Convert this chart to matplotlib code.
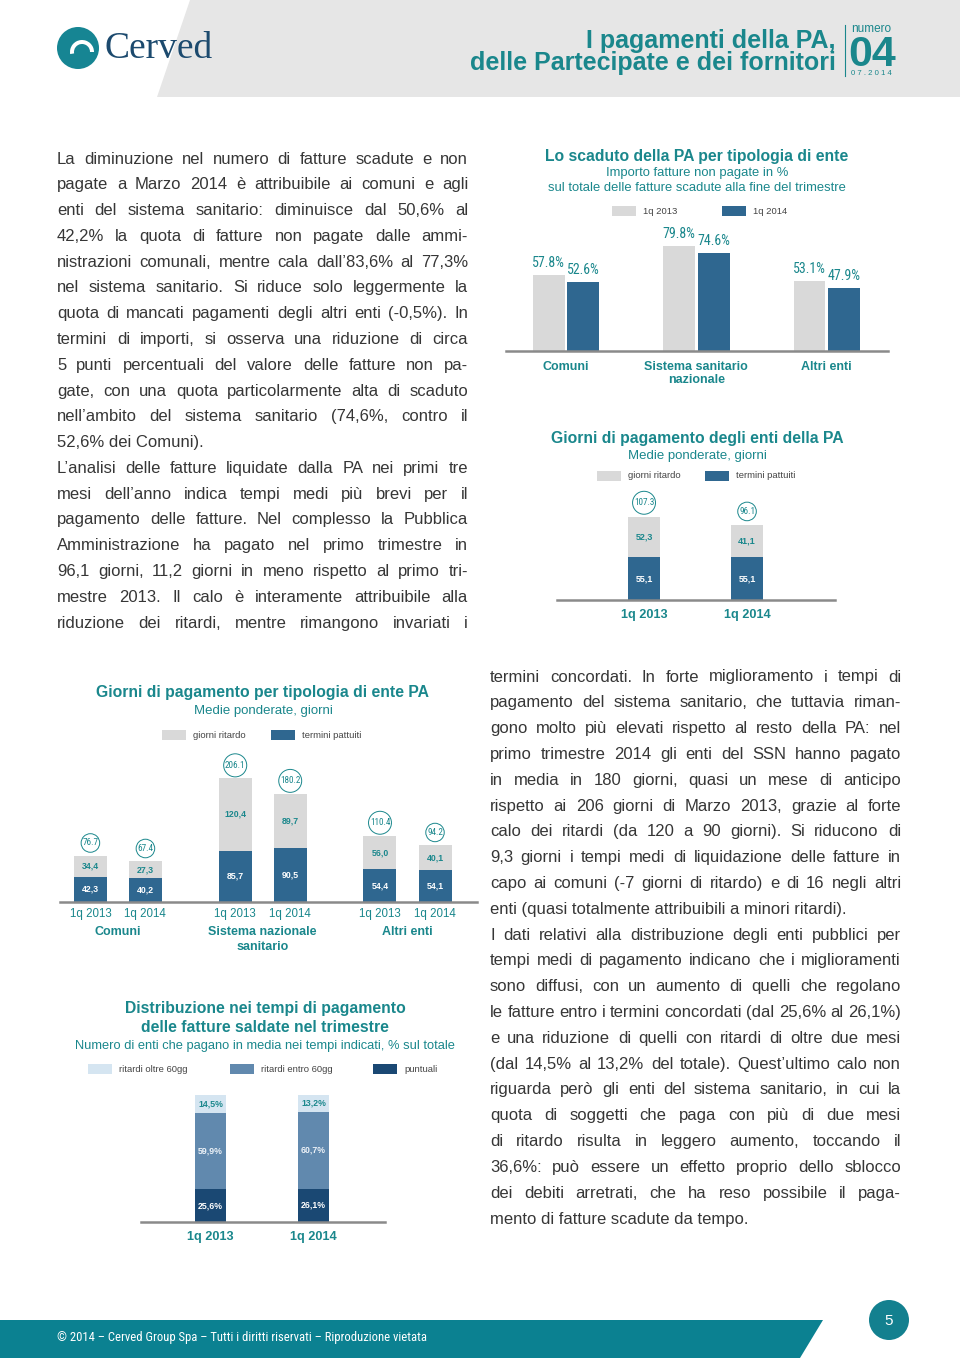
"""Cerved -- 'I pagamenti della PA' page 5: two text columns and four bar charts."""

import matplotlib
matplotlib.use("Agg")
import matplotlib.pyplot as plt
import numpy as np
from matplotlib import font_manager
from matplotlib.patches import Polygon, Circle, Rectangle, Wedge

W, H = 960, 1358
TEAL = "#1a878c"
GREY = "#d9d9d9"
BLUE = "#2f6790"
LIGHT = "#d5e5f1"
MID = "#6189ae"
NAVY = "#1a4873"
BODY_COL = "#363636"
SANS = ["Liberation Sans", "DejaVu Sans"]

_installed = {f.name for f in font_manager.fontManager.ttflist}
_narrow = [n for n in ("Liberation Sans Narrow", "DejaVu Sans Condensed", "Roboto Condensed",
                       "Open Sans Condensed") if n in _installed]
HAS_NARROW = bool(_narrow)
NARROW = (_narrow[:1] or []) + SANS

# ---- data -------------------------------------------------------------
scad_series = ["1q 2013", "1q 2014"]
scad_cats = ["Comuni", "Sistema sanitario\nnazionale", "Altri enti"]
scad_2013 = [57.8, 79.8, 53.1]
scad_2014 = [52.6, 74.6, 47.9]

giorni_series = ["giorni ritardo", "termini pattuiti"]
pa_periods = ["1q 2013", "1q 2014"]
pa_ritardo = [52.3, 41.1]
pa_termini = [55.1, 55.1]
pa_totale = [107.3, 96.1]

enti_cats = ["Comuni", "Sistema nazionale\nsanitario", "Altri enti"]
rit_2013 = [34.4, 120.4, 56.0]
rit_2014 = [27.3, 89.7, 40.1]
ter_2013 = [42.3, 85.7, 54.4]
ter_2014 = [40.2, 90.5, 54.1]
tot_2013 = [76.7, 206.1, 110.4]
tot_2014 = [67.4, 180.2, 94.2]

dist_series = ["ritardi oltre 60gg", "ritardi entro 60gg", "puntuali"]
dist_periods = ["1q 2013", "1q 2014"]
oltre60 = [14.5, 13.2]
entro60 = [59.9, 60.7]
puntuali = [25.6, 26.1]

left_lines = [
    "La diminuzione nel numero di fatture scadute e non",
    "pagate a Marzo 2014 è attribuibile ai comuni e agli",
    "enti del sistema sanitario: diminuisce dal 50,6% al",
    "42,2% la quota di fatture non pagate dalle ammi-",
    "nistrazioni comunali, mentre cala dall’83,6% al 77,3%",
    "nel sistema sanitario. Si riduce solo leggermente la",
    "quota di mancati pagamenti degli altri enti (-0,5%). In",
    "termini di importi, si osserva una riduzione di circa",
    "5 punti percentuali del valore delle fatture non pa-",
    "gate, con una quota particolarmente alta di scaduto",
    "nell’ambito del sistema sanitario (74,6%, contro il",
    "52,6% dei Comuni).",
    "L’analisi delle fatture liquidate dalla PA nei primi tre",
    "mesi dell’anno indica tempi medi più brevi per il",
    "pagamento delle fatture. Nel complesso la Pubblica",
    "Amministrazione ha pagato nel primo trimestre in",
    "96,1 giorni, 11,2 giorni in meno rispetto al primo tri-",
    "mestre 2013. Il calo è interamente attribuibile alla",
    "riduzione dei ritardi, mentre rimangono invariati i",
]
left_last = {11}

right_lines = [
    "termini concordati. In forte miglioramento i tempi di",
    "pagamento del sistema sanitario, che tuttavia riman-",
    "gono molto più elevati rispetto al resto della PA: nel",
    "primo trimestre 2014 gli enti del SSN hanno pagato",
    "in media in 180 giorni, quasi un mese di anticipo",
    "rispetto ai 206 giorni di Marzo 2013, grazie al forte",
    "calo dei ritardi (da 120 a 90 giorni). Si riducono di",
    "9,3 giorni i tempi medi di liquidazione delle fatture in",
    "capo ai comuni (-7 giorni di ritardo) e di 16 negli altri",
    "enti (quasi totalmente attribuibili a minori ritardi).",
    "I dati relativi alla distribuzione degli enti pubblici per",
    "tempi medi di pagamento indicano che i miglioramenti",
    "sono diffusi, con un aumento di quelli che regolano",
    "le fatture entro i termini concordati (dal 25,6% al 26,1%)",
    "e una riduzione di quelli con ritardi di oltre due mesi",
    "(dal 14,5% al 13,2% del totale). Quest’ultimo calo non",
    "riguarda però gli enti del sistema sanitario, in cui la",
    "quota di soggetti che paga con più di due mesi",
    "di ritardo risulta in leggero aumento, toccando il",
    "36,6%: può essere un effetto proprio dello sblocco",
    "dei debiti arretrati, che ha reso possibile il paga-",
    "mento di fatture scadute da tempo.",
]
right_last = {9, 21}

# ---- page -------------------------------------------------------------
fig = plt.figure(figsize=(W / 100, H / 100), dpi=100)
bg = fig.add_axes([0, 0, 1, 1])
bg.set_xlim(0, W); bg.set_ylim(H, 0); bg.axis("off")


def comma(v):
    return f"{v:.1f}".replace(".", ",")


def justified(lines, x0, x1, y0, step, last):
    r = fig.canvas.get_renderer()
    kw = dict(fontsize=12.0, color=BODY_COL, family=SANS, va="center")
    for i, line in enumerate(lines):
        y = y0 + i * step
        if i in last:
            bg.text(x0, y, line, **kw)
            continue
        words = line.split(" ")
        objs = [bg.text(0, y, w, **kw) for w in words]
        widths = [o.get_window_extent(r).width for o in objs]
        gap = (x1 - x0 - sum(widths)) / (len(words) - 1)
        x = x0
        for o, w in zip(objs, widths):
            o.set_x(x); x += w + gap


def legend(items, y):
    for x, color, label in items:
        bg.add_patch(Rectangle((x, y - 5), 24, 10, color=color, lw=0))
        bg.text(x + 31, y, label, fontsize=6.8, color="#444444", family=SANS, va="center")


def titles(x, lines, subs, y0, sub_y0, sub_size=9.4):
    for i, t in enumerate(lines):
        bg.text(x, y0 + i * 19, t, ha="center", va="center", fontsize=11.3,
                fontweight="bold", color=TEAL, family=SANS)
    for i, t in enumerate(subs):
        bg.text(x, sub_y0 + i * 15, t, ha="center", va="center", fontsize=sub_size,
                color=TEAL, family=SANS)


def chart_axes(left, right, baseline, height):
    ax = fig.add_axes([left / W, 1 - baseline / H, (right - left) / W, height / H])
    ax.set_facecolor("none")
    for s in ("top", "right", "left"):
        ax.spines[s].set_visible(False)
    ax.spines["bottom"].set_color("#8a8a8a"); ax.spines["bottom"].set_linewidth(1.8)
    ax.set_xticks([]); ax.set_yticks([])
    return ax


def below(ax, x, text, px, **kw):
    ax.annotate(text, xy=(x, 0), xytext=(0, -px * 0.72), textcoords="offset points",
                ha="center", va="center", color=TEAL, family=SANS, annotation_clip=False, **kw)


def ring(ax, x, top, v, px=14):
    ax.annotate(f"{v:.1f}", xy=(x, top), xytext=(0, px * 0.72), textcoords="offset points",
                ha="center", va="center", fontsize=6.6 if HAS_NARROW else 5.6, color=TEAL,
                family=NARROW, annotation_clip=False,
                bbox=dict(boxstyle="circle,pad=0.14", fc="white", ec=TEAL, lw=0.7))


# header
bg.add_patch(Polygon([(190, 0), (W, 0), (W, 97), (157, 97)], color="#e6e6e6", lw=0))
bg.add_patch(Circle((78, 48), 21, color="#168593", lw=0))
bg.add_patch(Wedge((82, 52), 12, 170, 360, width=4, color="white", lw=0))
bg.text(104, 58, "Cerved", fontsize=27, family=["Liberation Serif"], color="#1c4a6e",
        va="baseline")
bg.text(836, 48, "I pagamenti della PA,", ha="right", va="baseline", fontsize=18,
        fontweight="bold", color=TEAL, family=SANS)
bg.text(836, 70, "delle Partecipate e dei fornitori", ha="right", va="baseline", fontsize=18,
        fontweight="bold", color=TEAL, family=SANS)
bg.plot([845, 845], [25, 76], color=TEAL, lw=0.8)
bg.text(851, 32, "numero", fontsize=8.5, color=TEAL, family=SANS, va="baseline")
bg.text(848, 66, "04", fontsize=31, fontweight="bold", color=TEAL, family=SANS, va="baseline")
bg.text(851, 75, "0 7 . 2 0 1 4", fontsize=5.6, color=TEAL, family=SANS, va="baseline")

# footer
bg.add_patch(Polygon([(0, 1320), (823, 1320), (800, H), (0, H)], color="#0b8191", lw=0))
bg.text(57, 1338, "© 2014 – Cerved Group Spa – Tutti i diritti riservati – Riproduzione vietata",
        fontsize=9.1 if HAS_NARROW else 8.1, color="white", family=NARROW, va="center")
bg.add_patch(Circle((889, 1320), 20, color="#13808f", lw=0))
bg.text(889, 1321, "5", fontsize=11, color="white", family=SANS, ha="center", va="center")

# body text
justified(left_lines, 57, 468, 159, 25.78, left_last)
justified(right_lines, 490, 901, 677, 25.81, right_last)

# ---- chart 1: scaduto per tipologia di ente ------------------------------
titles(697, ["Lo scaduto della PA per tipologia di ente"],
       ["Importo fatture non pagate in %", "sul totale delle fatture scadute alla fine del trimestre"],
       156, 173)
legend([(612, GREY, scad_series[0]), (722, BLUE, scad_series[1])], 211)
ax = chart_axes(506, 888, 351, 125)
x = np.arange(len(scad_cats))
ax.set_xlim(-0.46, 2.47); ax.set_ylim(0, 125 / 1.31)
ax.bar(x - 0.132, scad_2013, 0.245, color=GREY)
ax.bar(x + 0.132, scad_2014, 0.245, color=BLUE)
for xi, a, b in zip(x, scad_2013, scad_2014):
    for dx, v in ((-0.132, a), (0.132, b)):
        ax.annotate(f"{v:.1f}%", xy=(xi + dx, v), xytext=(0, 4), textcoords="offset points",
                    ha="center", va="bottom", fontsize=10 if HAS_NARROW else 7.8,
                    color=TEAL, family=NARROW)
for xi, c in zip(x, scad_cats):
    ax.annotate(c, xy=(xi, 0), xytext=(0, -10 * 0.72), textcoords="offset points", ha="center",
                va="top", fontsize=9, fontweight="bold", color=TEAL, family=SANS,
                linespacing=1.12, annotation_clip=False)

# ---- chart 2: giorni di pagamento PA ----------------------------------
titles(697, ["Giorni di pagamento degli enti della PA"], ["Medie ponderate, giorni"], 438, 456, 9.5)
legend([(597, GREY, giorni_series[0]), (705, BLUE, giorni_series[1])], 476)
ax = chart_axes(557, 835, 600, 110)
x = np.arange(len(pa_periods))
ax.set_xlim(-0.845, 1.854); ax.set_ylim(0, 110 / 0.775)
ax.bar(x, pa_termini, 0.31, color=BLUE)
ax.bar(x, pa_ritardo, 0.31, bottom=pa_termini, color=GREY)
for xi, r, t, tot, p in zip(x, pa_ritardo, pa_termini, pa_totale, pa_periods):
    ax.text(xi, t / 2, comma(t), ha="center", va="center", fontsize=6.5, fontweight="bold",
            color="white", family=SANS)
    ax.text(xi, t + r / 2, comma(r), ha="center", va="center", fontsize=6.5, fontweight="bold",
            color=TEAL, family=SANS)
    ring(ax, xi, t + r, tot)
    below(ax, xi, p, 15, fontsize=9.2, fontweight="bold")

# ---- chart 3: giorni per tipologia di ente --------------------------------
titles(263, ["Giorni di pagamento per tipologia di ente PA"], ["Medie ponderate, giorni"], 692, 711, 9.5)
legend([(162, GREY, giorni_series[0]), (271, BLUE, giorni_series[1])], 735)
ax = chart_axes(60, 477, 902, 160)
x = np.arange(len(enti_cats))
ax.set_xlim(-0.40, 2.48); ax.set_ylim(0, 160 / 0.60)
for dx, rit, ter, tot, p in ((-0.19, rit_2013, ter_2013, tot_2013, pa_periods[0]),
                             (0.19, rit_2014, ter_2014, tot_2014, pa_periods[1])):
    ax.bar(x + dx, ter, 0.228, color=BLUE)
    ax.bar(x + dx, rit, 0.228, bottom=ter, color=GREY)
    for xi, r, t, tt in zip(x + dx, rit, ter, tot):
        ax.text(xi, t / 2, comma(t), ha="center", va="center", fontsize=6.3, fontweight="bold",
                color="white", family=SANS)
        ax.text(xi, t + r / 2, comma(r), ha="center", va="center", fontsize=6.3,
                fontweight="bold", color=TEAL, family=SANS)
        ring(ax, xi, t + r, tt, 13)
        below(ax, xi, p, 12, fontsize=8.3)
for xi, c in zip(x, enti_cats):
    ax.annotate(c, xy=(xi, 0), xytext=(0, -24 * 0.72), textcoords="offset points", ha="center",
                va="top", fontsize=9, fontweight="bold", color=TEAL, family=SANS,
                linespacing=1.3, annotation_clip=False)

# ---- chart 4: distribuzione nei tempi di pagamento ------------------------
titles(265, ["Distribuzione nei tempi di pagamento", "delle fatture saldate nel trimestre"],
       ["Numero di enti che pagano in media nei tempi indicati, % sul totale"], 1009, 1046, 9.3)
legend([(88, LIGHT, dist_series[0]), (230, MID, dist_series[1]), (373, NAVY, dist_series[2])], 1069)
ax = chart_axes(141, 385, 1222, 135)
x = np.arange(len(dist_periods))
ax.set_xlim(-0.675, 1.694); ax.set_ylim(0, 135 / 1.27)
p_arr, e_arr, o_arr = np.array(puntuali), np.array(entro60), np.array(oltre60)
ax.bar(x, p_arr, 0.30, color=NAVY)
ax.bar(x, e_arr, 0.30, bottom=p_arr, color=MID)
ax.bar(x, o_arr, 0.30, bottom=p_arr + e_arr, color=LIGHT)
for xi, pv, ev, ov, per in zip(x, p_arr, e_arr, o_arr, dist_periods):
    ax.text(xi, pv / 2, comma(pv) + "%", ha="center", va="center", fontsize=6.3,
            fontweight="bold", color="white", family=SANS)
    ax.text(xi, pv + ev / 2, comma(ev) + "%", ha="center", va="center", fontsize=6.3,
            fontweight="bold", color="#eef3f8", family=SANS)
    ax.text(xi, pv + ev + ov / 2, comma(ov) + "%", ha="center", va="center", fontsize=6.3,
            fontweight="bold", color=TEAL, family=SANS)
    below(ax, xi, per, 15, fontsize=9.2, fontweight="bold")

fig.savefig("out.png", dpi=100)
